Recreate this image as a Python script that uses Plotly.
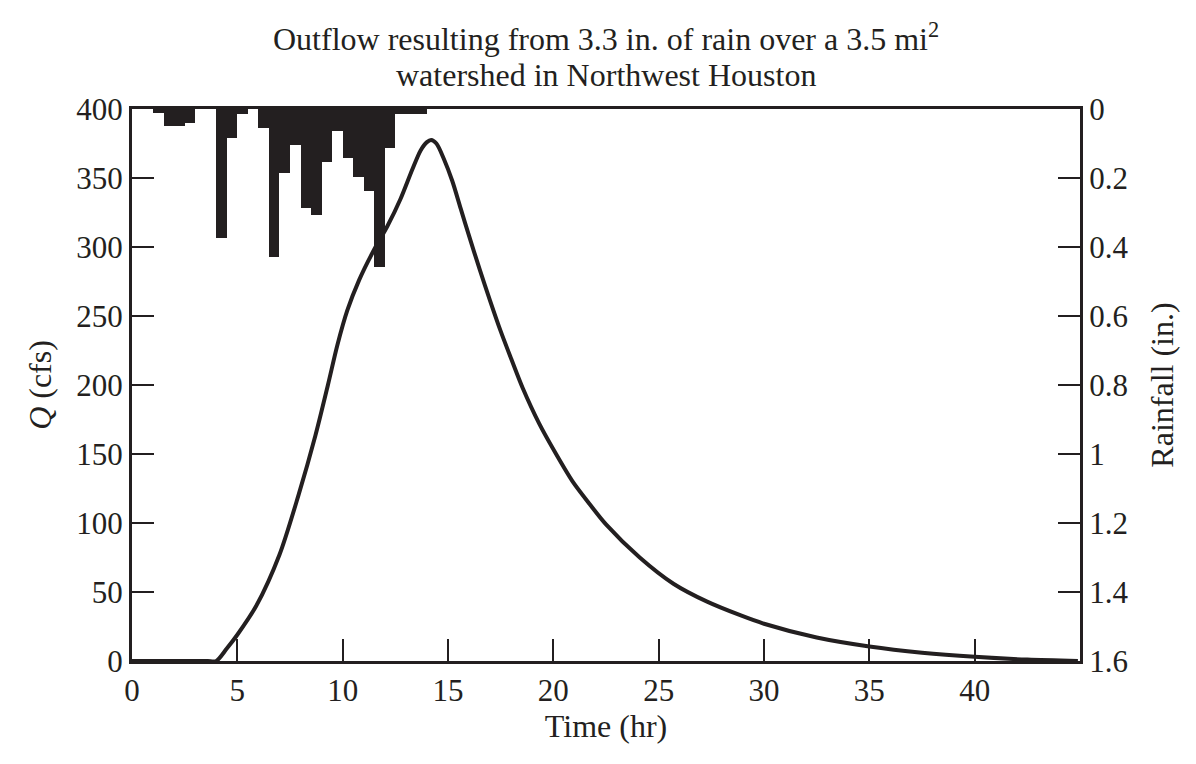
import plotly.graph_objects as go

# hydrograph
time_hr = [0, 1.0, 2.0, 3.0, 3.6, 4.0, 4.5, 5.0, 5.9, 7.0, 7.9, 8.7, 9.3, 9.75, 10.22,
           10.78, 11.49, 12.12, 12.75, 13.3, 13.7, 14.0, 14.2, 14.45, 14.8, 15.2,
           15.6, 16.0, 16.5, 17.0, 17.5, 18.0, 18.54, 19.33, 20.13, 20.92, 21.71,
           22.5, 24.1, 25.7, 27.3, 28.9, 30.0, 32.5, 35.0, 37.5, 40.0, 42.5, 44.9]
outflow_cfs = [0, 0, 0, 0, 0, 0, 9, 19, 40, 77, 120, 163, 200, 229, 254,
               276, 298, 315, 335, 356, 370, 376, 377.5, 375, 364, 348,
               328, 308, 284, 261, 239, 219, 198, 172, 150, 130, 114,
               99, 75, 56, 43, 33, 27, 17, 10.5, 6, 3, 1, 0]

# half-hour rainfall increments (start of interval, inches)
rain_start = [1.0, 1.5, 2.0, 2.5, 3.0, 3.5, 4.0, 4.5, 5.0, 5.5, 6.0, 6.5, 7.0, 7.5,
              8.0, 8.5, 9.0, 9.5, 10.0, 10.5, 11.0, 11.5, 12.0, 12.5, 13.0, 13.5]
rain_in = [0.012, 0.05, 0.05, 0.04, 0, 0, 0.373, 0.083, 0.015, 0, 0.054, 0.428, 0.185, 0.104,
           0.286, 0.306, 0.153, 0.064, 0.141, 0.196, 0.237, 0.457, 0.112, 0.015, 0.015, 0.015]

q_ticks = [0, 50, 100, 150, 200, 250, 300, 350, 400]
rain_ticks = [0, 0.2, 0.4, 0.6, 0.8, 1.0, 1.2, 1.4, 1.6]
rain_labels = ["0", "0.2", "0.4", "0.6", "0.8", "1", "1.2", "1.4", "1.6"]
time_ticks = [0, 5, 10, 15, 20, 25, 30, 35, 40]

ink = "#231f20"
serif = "Liberation Serif"

fig = go.Figure()
fig.add_trace(go.Bar(
    x=[s + 0.25 for s in rain_start], y=rain_in, width=0.5,
    marker=dict(color=ink, line=dict(width=0)),
    yaxis="y2", showlegend=False,
))
fig.add_trace(go.Scatter(
    x=time_hr, y=outflow_cfs, mode="lines",
    line=dict(color=ink, width=4, shape="spline", smoothing=0.8),
    showlegend=False,
))

axis_common = dict(
    showline=True, linecolor=ink, linewidth=3,
    ticks="inside", ticklen=22, tickwidth=2, tickcolor=ink,
    showgrid=False, zeroline=False,
    tickfont=dict(family=serif, size=31, color=ink),
)
title_font = dict(family=serif, size=32, color=ink)

fig.update_layout(
    width=1196, height=764,
    margin=dict(l=124, r=124, t=101, b=111),
    paper_bgcolor="white", plot_bgcolor="white",
    font=dict(family=serif, color=ink),
    bargap=0,
    xaxis=dict(
        range=[0, 45], tickvals=time_ticks, mirror=True,
        title=dict(text="Time (hr)", font=title_font, standoff=8),
        **axis_common,
    ),
    yaxis=dict(
        range=[0, 400], tickvals=q_ticks,
        title=dict(text="<i>Q</i> (cfs)", font=title_font, standoff=16),
        **axis_common,
    ),
    yaxis2=dict(
        range=[1.6, 0], tickvals=rain_ticks, ticktext=rain_labels,
        overlaying="y", side="right",
        title=dict(text="Rainfall (in.)", font=title_font, standoff=24),
        **axis_common,
    ),
    annotations=[
        dict(text="Outflow resulting from 3.3 in. of rain over a 3.5 mi<sup>2</sup>",
             xref="paper", yref="paper", x=0.5, y=1.131, xanchor="center", yanchor="middle",
             showarrow=False, font=title_font),
        dict(text="watershed in Northwest Houston",
             xref="paper", yref="paper", x=0.5, y=1.062, xanchor="center", yanchor="middle",
             showarrow=False, font=title_font),
    ],
)

fig.write_html("out.html")
